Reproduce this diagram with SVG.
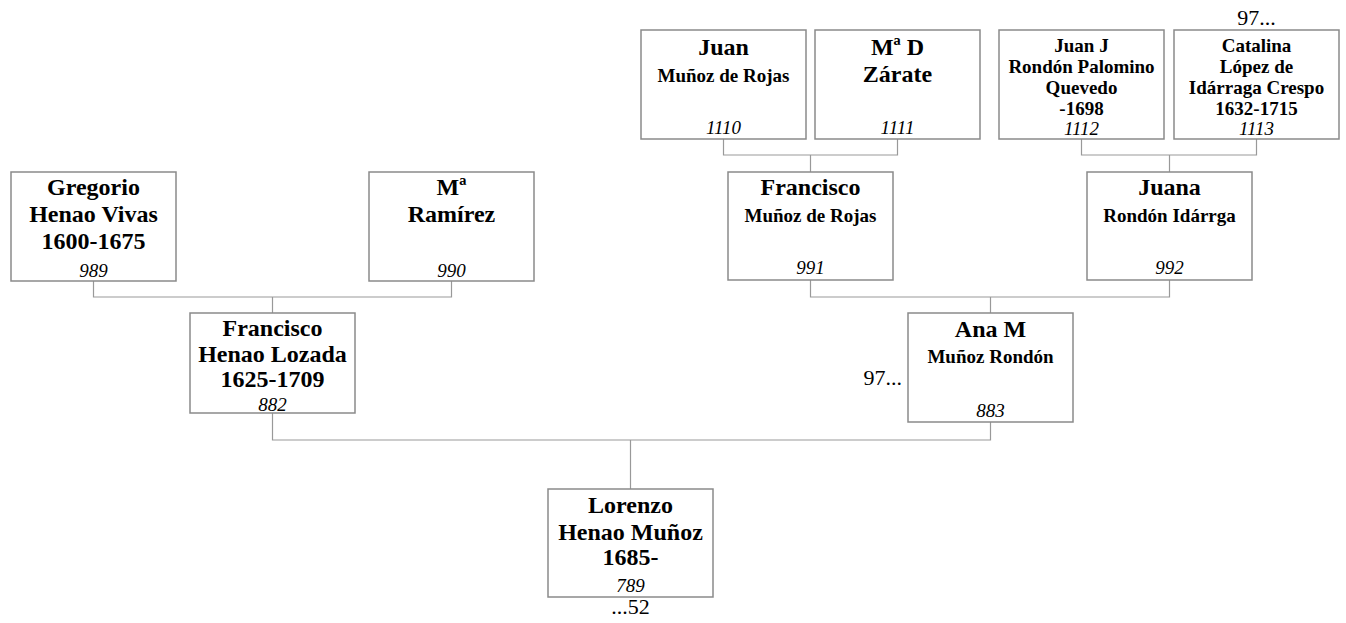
<svg xmlns="http://www.w3.org/2000/svg" width="1346" height="623" viewBox="0 0 1346 623">
<style>
.box{fill:#fff;stroke:#8a8a8a;stroke-width:1.5}
.b{font-family:"Liberation Serif",serif;font-weight:bold;font-size:24px;fill:#000;text-anchor:middle}
.s{font-family:"Liberation Serif",serif;font-weight:bold;font-size:19px;fill:#000;text-anchor:middle}
.n{font-family:"Liberation Serif",serif;font-style:italic;font-size:19px;fill:#000;text-anchor:middle}
.t{font-family:"Liberation Serif",serif;font-size:22px;fill:#000}
.c{fill:none;stroke:#999;stroke-width:1.2}
</style>
<rect width="1346" height="623" fill="#fff"/>
<g id="connectors">
<path class="c" d="M93.5 281V297H451.5V281M272.5 297V313"/>
<path class="c" d="M723.5 139V155H897.5V139M810.5 155V172"/>
<path class="c" d="M1081.5 139V155H1256.5V139M1169.5 155V172"/>
<path class="c" d="M810.5 280V297H1169.5V280M990.5 297V313"/>
<path class="c" d="M272.5 413V440H990.5V422M630.5 440V489"/>
</g>
<g id="n989">
<rect class="box" x="11" y="172" width="165" height="109"/>
<text class="b" x="93.5" y="195">Gregorio</text>
<text class="b" x="93.5" y="222">Henao Vivas</text>
<text class="b" x="93.5" y="249">1600-1675</text>
<text class="n" x="93.5" y="277">989</text>
</g>
<g id="n990">
<rect class="box" x="369" y="172" width="165" height="109"/>
<text class="b" x="451.5" y="195">Mª</text>
<text class="b" x="451.5" y="222">Ramírez</text>
<text class="n" x="451.5" y="277">990</text>
</g>
<g id="n882">
<rect class="box" x="190" y="313" width="165" height="100"/>
<text class="b" x="272.5" y="336">Francisco</text>
<text class="b" x="272.5" y="362">Henao Lozada</text>
<text class="b" x="272.5" y="387">1625-1709</text>
<text class="n" x="272.5" y="410.5">882</text>
</g>
<g id="n1110">
<rect class="box" x="641" y="30" width="165" height="109"/>
<text class="b" x="723.5" y="55">Juan</text>
<text class="s" x="723.5" y="82">Muñoz de Rojas</text>
<text class="n" x="723.5" y="134">1110</text>
</g>
<g id="n1111">
<rect class="box" x="815" y="30" width="165" height="109"/>
<text class="b" x="897.5" y="55">Mª D</text>
<text class="b" x="897.5" y="82">Zárate</text>
<text class="n" x="897.5" y="134">1111</text>
</g>
<g id="n1112">
<rect class="box" x="999" y="30" width="165" height="109"/>
<text class="s" x="1081.5" y="52">Juan J</text>
<text class="s" x="1081.5" y="73">Rondón Palomino</text>
<text class="s" x="1081.5" y="94">Quevedo</text>
<text class="s" x="1081.5" y="115">-1698</text>
<text class="n" x="1081.5" y="135">1112</text>
</g>
<g id="n1113">
<text class="t" x="1256.5" y="25" text-anchor="middle">97...</text>
<rect class="box" x="1174" y="30" width="165" height="109"/>
<text class="s" x="1256.5" y="52">Catalina</text>
<text class="s" x="1256.5" y="73">López de</text>
<text class="s" x="1256.5" y="94">Idárraga Crespo</text>
<text class="s" x="1256.5" y="115">1632-1715</text>
<text class="n" x="1256.5" y="135">1113</text>
</g>
<g id="n991">
<rect class="box" x="728" y="172" width="165" height="108"/>
<text class="b" x="810.5" y="195">Francisco</text>
<text class="s" x="810.5" y="222">Muñoz de Rojas</text>
<text class="n" x="810.5" y="274">991</text>
</g>
<g id="n992">
<rect class="box" x="1087" y="172" width="165" height="108"/>
<text class="b" x="1169.5" y="195">Juana</text>
<text class="s" x="1169.5" y="222">Rondón Idárrga</text>
<text class="n" x="1169.5" y="274">992</text>
</g>
<g id="n883">
<text class="t" x="902" y="385" text-anchor="end">97...</text>
<rect class="box" x="908" y="313" width="165" height="109"/>
<text class="b" x="990.5" y="337">Ana M</text>
<text class="s" x="990.5" y="363">Muñoz Rondón</text>
<text class="n" x="990.5" y="417">883</text>
</g>
<g id="n789">
<rect class="box" x="548" y="489" width="165" height="108"/>
<text class="b" x="630.5" y="513">Lorenzo</text>
<text class="b" x="630.5" y="540">Henao Muñoz</text>
<text class="b" x="630.5" y="565">1685-</text>
<text class="n" x="630.5" y="592">789</text>
<text class="t" x="630.5" y="614" text-anchor="middle">...52</text>
</g>
</svg>
